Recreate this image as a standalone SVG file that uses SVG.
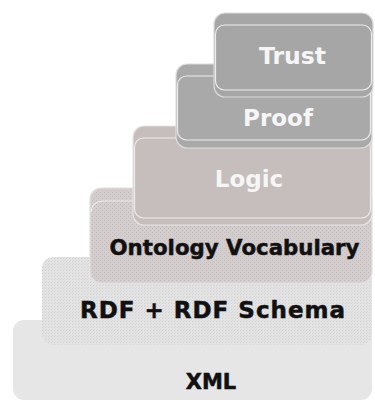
<svg xmlns="http://www.w3.org/2000/svg" width="375" height="405" viewBox="0 0 375 405">
<defs>
<pattern id="dotsOnt" width="4" height="4" patternUnits="userSpaceOnUse">
<rect width="4" height="4" fill="#d4cdcd"/>
<rect x="0" y="0" width="1" height="1" fill="#c4bcbc"/>
<rect x="2" y="2" width="1" height="1" fill="#c4bcbc"/>
</pattern>
<pattern id="dotsRdf" width="3" height="3" patternUnits="userSpaceOnUse">
<rect width="3" height="3" fill="#e3e3e3"/>
<rect x="0" y="0" width="1" height="1" fill="#d2d2d2"/>
<rect x="1" y="2" width="1" height="1" fill="#d8d8d8"/>
</pattern>
<style>
.lbl{font-family:"DejaVu Sans",Verdana,sans-serif;font-weight:bold;text-anchor:middle}
.w{fill:#f6f6f6}
.k{fill:#111111;stroke:#111111;stroke-width:0.5}
.edge{fill:none;stroke:#ececec;stroke-width:1.2}
</style>
</defs>
<rect width="375" height="405" fill="#ffffff"/>
<g id="xml">
<rect x="13" y="320" width="359" height="80" rx="11" fill="#e6e6e6"/>
<text class="lbl k" x="211" y="389" font-size="21">XML</text>
</g>
<g id="rdf">
<rect x="42" y="257" width="330" height="88" rx="11" fill="url(#dotsRdf)"/>
<text class="lbl k" x="213" y="318" font-size="23" letter-spacing="1">RDF + RDF Schema</text>
</g>
<g id="ontology">
<rect x="90" y="188" width="282" height="95" rx="11" fill="url(#dotsOnt)" stroke="#e4e0e0" stroke-width="1.2"/>
<path class="edge" d="M91 212 Q92 202 102 201 H362 Q371 202 371 212"/>
<text class="lbl k" x="234.5" y="255" font-size="21.3">Ontology Vocabulary</text>
</g>
<g id="logic">
<rect x="133" y="126" width="239" height="99" rx="11" fill="#c5bebd" stroke="#e8e4e4" stroke-width="1.2"/>
<rect class="edge" x="134.5" y="138" width="236" height="80" rx="9"/>
<text class="lbl w" x="249" y="187" font-size="23">Logic</text>
</g>
<g id="proof">
<rect x="176" y="64" width="196" height="84" rx="11" fill="#a9a9a9" stroke="#dedede" stroke-width="1.2"/>
<rect class="edge" x="177.5" y="76" width="193" height="64" rx="9"/>
<text class="lbl w" x="278" y="126" font-size="23">Proof</text>
</g>
<g id="trust">
<rect x="214" y="13" width="159" height="84" rx="11" fill="#a6a6a6" stroke="#dcdcdc" stroke-width="1.2"/>
<rect class="edge" x="215.5" y="25" width="156" height="65" rx="9"/>
<text class="lbl w" x="292.5" y="64" font-size="23.5">Trust</text>
</g>
<g id="connectors"/>
</svg>
